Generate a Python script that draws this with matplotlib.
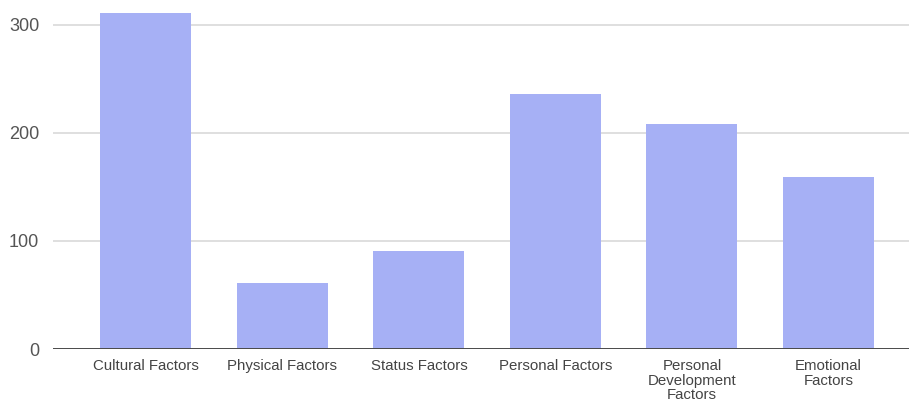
import matplotlib.pyplot as plt

# Factor counts
categories = [
    "Cultural Factors",
    "Physical Factors",
    "Status Factors",
    "Personal Factors",
    "Personal\nDevelopment\nFactors",
    "Emotional\nFactors",
]
counts = [311, 61, 91, 236, 208, 159]
y_ticks = [0, 100, 200, 300]

plt.rcParams["font.family"] = ["Liberation Sans", "DejaVu Sans"]

fig = plt.figure(figsize=(9.09, 4.03), dpi=100)
ax = fig.add_axes([53 / 909, 54 / 403, 1 - 53 / 909, 349 / 403])

x = range(len(categories))
ax.bar(x, counts, width=0.667, color="#a6b0f5", zorder=3)

ax.set_xlim(-0.68, 5.59)
ax.set_ylim(0, 323)
ax.set_yticks(y_ticks)
ax.set_xticks(list(x))
ax.set_xticklabels(categories, fontsize=10.8, color="#444444", linespacing=1.08)
ax.tick_params(axis="x", length=0, pad=7)
ax.tick_params(axis="y", length=0, pad=10, labelsize=13, labelcolor="#555555")

# gridlines and baseline
ax.grid(axis="y", color="#d9d9d9", linewidth=1.2, zorder=0)
ax.axhline(0, color="#4a4a4a", linewidth=1.4, zorder=4)
ax.grid(axis="x", visible=False)
for side in ax.spines.values():
    side.set_visible(False)

fig.savefig("out.png", dpi=100)
